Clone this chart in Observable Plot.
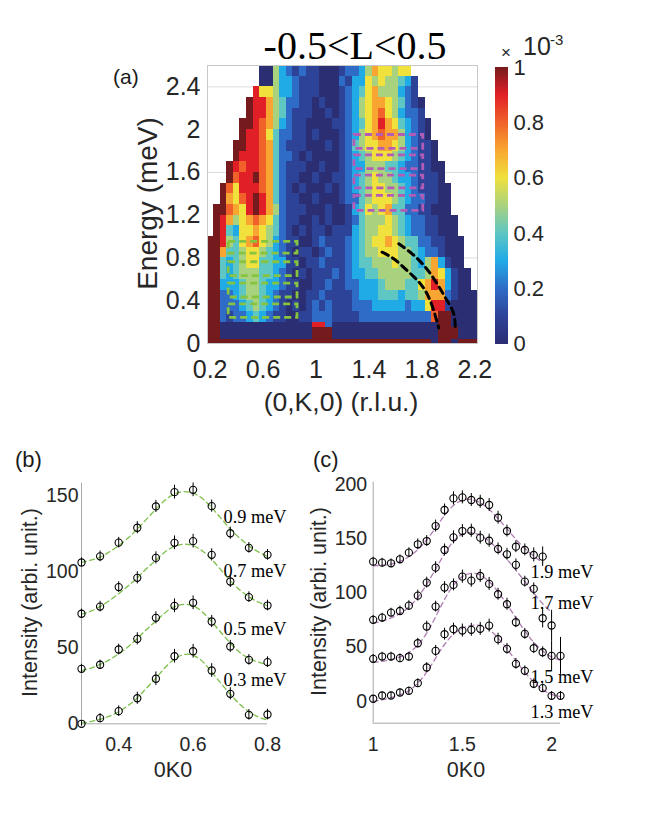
<!DOCTYPE html>
<html>
<head>
<meta charset="utf-8">
<script src="https://cdn.jsdelivr.net/npm/d3@7"></script>
<script src="https://cdn.jsdelivr.net/npm/@observablehq/plot@0.6"></script>
<style>
html,body{margin:0;padding:0;background:#fff;}
#fig{position:relative;width:668px;height:839px;overflow:hidden;background:#fff;}
#fig > svg{position:absolute;overflow:visible;background:transparent;}
</style>
</head>
<body>
<div id="fig"></div>
<script>
const SANS = '"Liberation Sans", Arial, Helvetica, sans-serif';
const SERIF = '"Liberation Serif", "Times New Roman", Times, serif';
const INK = "#262626";

// ================= Panel (a) data =================
const kCenters = [0.2,0.25,0.3,0.35,0.4,0.45,0.5,0.55,0.6,0.65,0.7,0.75,0.8,0.85,0.9,0.95,1,1.05,1.1,1.15,1.2,1.25,1.3,1.35,1.4,1.45,1.5,1.55,1.6,1.65,1.7,1.75,1.8,1.85,1.9,1.95,2,2.05,2.1,2.15,2.2];
const kBinWidth = 0.05;
const energyBands = [[2.5,2.6],[2.4,2.5],[2.3,2.4],[2.2,2.3],[2.1,2.2],[2.0,2.1],[1.9,2.0],[1.8,1.9],[1.7,1.8],[1.6,1.7],[1.5,1.6],[1.4,1.5],[1.3,1.4],[1.2,1.3],[1.1,1.2],[1.0,1.1],[0.9,1.0],[0.8,0.9],[0.7,0.8],[0.6,0.7],[0.5,0.6],[0.4,0.5],[0.3,0.4],[0.2,0.3],[0.15,0.2],[0.04,0.15],[0,0.04]];
// intensity levels (x1e-3): '0'..'9' = 0.0..0.9, 'a' = 1.0, '.' = no data
const mapRows = [
  '........00'+'5321211000'+'1223576656'+'6..........',
  '........00'+'5332111000'+'2133656554'+'31.........',
  '.......966'+'5332111000'+'1234675553'+'21.........',
  '......a997'+'5422110100'+'1235677654'+'210........',
  '......a997'+'5421110010'+'1235678653'+'221........',
  '.....aa987'+'5321100001'+'1234679764'+'3210.......',
  '.....a9986'+'4221101000'+'1235678775'+'3210.......',
  '....aa9987'+'4211100010'+'1245667765'+'32110......',
  '....a99987'+'4221010000'+'1234566654'+'32110......',
  '...a989987'+'4211100100'+'1233555443'+'221100.....',
  '...a899a87'+'4211001001'+'1234565543'+'321110.....',
  '..a8699987'+'4210100010'+'1234566554'+'3211100....',
  '..a7689a97'+'4211001000'+'1224566654'+'3221100....',
  '.aa8769a97'+'5211100010'+'0134656744'+'2211000....',
  '.a97567876'+'4211001010'+'0124555654'+'32211000...',
  '.a94366765'+'4210101101'+'1134556654'+'32211000...',
  'aa95467865'+'3211001211'+'1234566765'+'442211000..',
  'aa74456654'+'3210110121'+'1234556665'+'543221000..',
  'aa43456644'+'3311011211'+'1234455565'+'543573100..',
  'aa43455544'+'3210101112'+'1233445555'+'5445763100.',
  'aa33345543'+'3211001121'+'1223334555'+'4467973100.',
  'aa22345543'+'2110011211'+'1123334443'+'44577721000',
  'aa22234543'+'2101012121'+'1122233333'+'23369910000',
  'aa21223432'+'1100112221'+'1112222222'+'22228aa0000',
  'aa00000000'+'0000009920'+'0000000000'+'00000aa0000',
  'aa00000000'+'000000aaa0'+'0000000000'+'00000aaa000',
  'aaaaaaaaaa'+'aaaaaaaaaa'+'aaaaaaaaaa'+'aaaa0aa0aaa'
];
const cmapStops  = [0, 0.1, 0.2, 0.3, 0.4, 0.5, 0.6, 0.7, 0.8, 0.9, 1];
const cmapColors = ["#2c2e74","#2d4398","#2f6cc7","#20abe6","#5ec6c3","#a9d27e","#f0e13c","#f8a631","#f0622a","#e11f26","#751b1d"];
const kTicks = [0.2, 0.6, 1, 1.4, 1.8, 2.2];
const eTicks = [0, 0.4, 0.8, 1.2, 1.6, 2, 2.4];
const eGrid = [0.8, 1.6, 2.4];
const cbarTicks = [0, 0.2, 0.4, 0.6, 0.8, 1];
const greenBoxK = [0.34, 0.86];
const greenBoxE = [[0.24,0.365],[0.43,0.56],[0.63,0.76],[0.84,0.95]];
const magentaBoxK = [1.29, 1.81];
const magentaBoxE = [[1.24,1.38],[1.45,1.57],[1.63,1.76],[1.82,1.95]];
const innerCurveK = [1.499,1.587,1.688,1.789,1.851,1.889,1.927];
const innerCurveE = [0.854,0.792,0.683,0.558,0.433,0.309,0.145];
const outerCurveK = [1.625,1.726,1.826,1.915,1.990,2.040,2.053];
const outerCurveE = [0.933,0.839,0.714,0.558,0.402,0.278,0.13];

// ================= Panel (b) data =================
const xB = [0.3,0.35,0.4,0.45,0.5,0.55,0.6,0.65,0.7,0.75,0.8];
const b09 = [106,110,119,128.8,142.8,152.2,153.7,143,125.2,115.6,111];
const b07 = [72.3,77,89.8,95.9,109,118.9,120,111,93.5,83.2,77.7];
const b05 = [36.1,38.8,48.8,55.8,69.6,77.5,79.5,67.2,50.8,42,40.5];
const b03 = [0,3.7,8.3,16.8,29.6,44.4,47.7,35,19.7,5.9,6.1];
const eB09 = [3,3.5,3.5,4,4,4.5,4.5,4,4,3.5,3.5];
const eB07 = [3,3.5,3.5,4,4,4.5,4.5,4,4,3.5,3.5];
const eB05 = [3,3,3.5,4,4,4.5,4.5,4,4,3.5,3.5];
const eB03 = [1.5,3,3.5,4,4.5,4.5,4.5,4.5,4,3.5,3.5];
const fitXB = [0.3,0.325,0.35,0.375,0.4,0.425,0.45,0.475,0.5,0.525,0.55,0.575,0.6,0.625,0.65,0.675,0.7,0.725,0.75,0.775,0.8];
const fitB09 = [106,107.5,109.5,113,117,122,128,134.5,141,147,151,152.5,151.5,148,142,135,128,122,117,113,110];
const fitB07 = [72,74,77,81,85.5,90.5,96,102,107.5,113,116.5,118,117,113.5,108,101,94,88,83.5,80,77.5];
const fitB05 = [35,36.5,39,42,46,50.5,56,62,67.5,73,77,78.5,77.5,73.5,67,60,53,47,43,40.5,39];
const fitB03 = [0.5,1.5,3,5,8,12,17,23.5,30,37,42.5,45.5,45,41,34,26.5,19.5,13,8,4.5,2.5];
const labelsB = [["0.9 meV",0.682,135.5],["0.7 meV",0.682,100.1],["0.5 meV",0.682,62],["0.3 meV",0.682,28.5]];

// ================= Panel (c) data =================
const xC = [1,1.05,1.1,1.15,1.2,1.25,1.3,1.35,1.4,1.45,1.5,1.55,1.6,1.65,1.7,1.75,1.8,1.85,1.9,1.95,2,2.05];
const c19 = [128.8,127.9,127.3,131,137.1,144.8,147.8,161.6,176.4,187.1,188,185.6,184,181,169.3,157,142.6,139.6,135,133.4];
const c17 = [75.2,77.3,81.9,83.4,88.3,97.5,109.5,123.3,139.6,151.2,157,157.3,150.9,148.1,140.5,135.6,125.8,110.4,103.7,76.7,70];
const c15 = [39.3,41.4,41.4,39.9,41.4,53.7,69,87.4,104.9,107.4,115,111.3,115.6,108.3,98.8,89.6,73,62.3,49.1,45.4,42,42];
const c13 = [2.5,5.5,5.5,8.3,9.8,16.9,31.3,46.6,62,66.6,65.3,66,66.9,69.9,57.4,48.5,34.7,28.2,16.3,12.3,5.2,5.2];
const eC19 = [4,4,4,4,4.5,5,5,5.5,5.5,6,6,6,6,6,6,5.5,5.5,5.5,6.5,9];
const eC17 = [4,4,4,4.5,4.5,5,5,5.5,5.5,6,6,6,6,6,5.5,5.5,5.5,5,5.5,9,14];
const eC15 = [4,4,4,4,4,4.5,5,5,5.5,5.5,6,6,6,6,5.5,5.5,5,5,5,5,14,17];
const eC13 = [3,3,3,3,3.5,4,4.5,5,5.5,5.5,6,6,6,6,5.5,5,5,4.5,4.5,4,4,4];
const fitC19 = [125,125.5,126.5,129,133.5,140,149,160,171.5,180.5,185.5,186,183,177,168.5,159,149.5,141,134,128];
const fitC17 = [72,74,77,81,87,96,108,122,136,147.5,154,155.5,153,147.5,140,131,121,110.5,100,90,82];
const fitC15 = [36,37,38.5,41,45,52,63,78,94,107,115,118,116.5,110.5,101,89.5,77,65,54.5,46.5,41,38];
const fitC13 = [0,1.5,3.5,6,10,17,27,40,52.5,62,67.5,70,70,66,58.5,48.5,37.5,27,18,11,6.5,4.5];
const labelsC = [["1.9 meV",1.882,119.6],["1.7 meV",1.882,90.5],["1.5 meV",1.882,22.4],["1.3 meV",1.882,-10.1]];

// ================= build =================
const cmap = d3.scaleLinear().domain(cmapStops).range(cmapColors).clamp(true);
const levelOf = ch => (ch === undefined || ch === ".") ? null : (ch === "a" ? 1 : (+ch) / 10);
const cells = [];
mapRows.forEach((row, r) => {
  const [e0, e1] = energyBands[r];
  kCenters.forEach((k, i) => {
    const v = levelOf(row[i]);
    if (v === null) return;
    cells.push({x1: k - kBinWidth / 2, x2: k + kBinWidth / 2, y1: e0, y2: e1, v});
  });
});
const greenBoxes = greenBoxE.map(([e0, e1]) => ({k0: greenBoxK[0], k1: greenBoxK[1], e0, e1}));
const magentaBoxes = magentaBoxE.map(([e0, e1]) => ({k0: magentaBoxK[0], k1: magentaBoxK[1], e0, e1}));
const innerCurve = innerCurveK.map((k, i) => ({k, e: innerCurveE[i]}));
const outerCurve = outerCurveK.map((k, i) => ({k, e: outerCurveE[i]}));

const fig = document.getElementById("fig");
function place(el, left, top) { el.style.left = left + "px"; el.style.top = top + "px"; fig.appendChild(el); }

const plotA = Plot.plot({
  width: 490, height: 420,
  marginLeft: 207, marginRight: 13, marginTop: 65, marginBottom: 77,
  x: {domain: [0.18, 2.22]},
  y: {domain: [0, 2.6]},
  color: {type: "identity"},
  style: {fontFamily: SANS, fontSize: "25px", color: INK, background: "transparent", overflow: "visible"},
  marks: [
    Plot.ruleY(eGrid, {stroke: "#dcdcdc", strokeWidth: 1}),
    Plot.rect(cells, {x1: "x1", x2: "x2", y1: "y1", y2: "y2", fill: d => cmap(d.v), clip: true, shapeRendering: "crispEdges"}),
    Plot.rect(greenBoxes, {x1: "k0", x2: "k1", y1: "e0", y2: "e1", fill: "none", stroke: "#86c440", strokeWidth: 2.8, strokeDasharray: "7,4"}),
    Plot.rect(magentaBoxes, {x1: "k0", x2: "k1", y1: "e0", y2: "e1", fill: "none", stroke: "#b35cb7", strokeWidth: 2.8, strokeDasharray: "7,4"}),
    Plot.line(innerCurve, {x: "k", y: "e", stroke: "black", strokeWidth: 3, strokeDasharray: "7,5", curve: "natural"}),
    Plot.line(outerCurve, {x: "k", y: "e", stroke: "black", strokeWidth: 3, strokeDasharray: "7,5", curve: "natural"}),
    Plot.frame({stroke: "#c8c8c8"}),
    Plot.axisX({ticks: kTicks, tickFormat: d => String(d), tickSize: 0, tickPadding: 17, label: null}),
    Plot.axisY({ticks: eTicks, tickFormat: d => String(d), tickSize: 0, tickPadding: 7, label: null})
  ]
});
place(plotA, 0, 0);

const cbarSteps = d3.range(0, 1, 0.004);
const plotCB = Plot.plot({
  width: 73, height: 296.6,
  marginLeft: 0, marginRight: 60, marginTop: 10, marginBottom: 10,
  x: {domain: [0, 1], axis: null},
  y: {domain: [0, 1]},
  color: {type: "identity"},
  style: {fontFamily: SANS, fontSize: "22px", color: INK, background: "transparent", overflow: "visible"},
  marks: [
    Plot.rect(cbarSteps, {x1: () => 0, x2: () => 1, y1: d => d, y2: d => d + 0.0045, fill: d => cmap(d + 0.002), shapeRendering: "crispEdges"}),
    Plot.axisY({anchor: "right", ticks: cbarTicks, tickFormat: d => String(d), tickSize: 0, tickPadding: 5, label: null})
  ]
});
place(plotCB, 495, 56.7);

function seriesPoints(xs, ys, es, name) { return ys.map((y, i) => ({x: xs[i], y, e: es[i], s: name})); }
function seriesLine(xs, ys, name) { return ys.map((y, i) => ({x: xs[i], y, s: name})); }

const pointsB = [...seriesPoints(xB, b09, eB09, "0.9"), ...seriesPoints(xB, b07, eB07, "0.7"), ...seriesPoints(xB, b05, eB05, "0.5"), ...seriesPoints(xB, b03, eB03, "0.3")];
const fitsB = [...seriesLine(fitXB, fitB09, "0.9"), ...seriesLine(fitXB, fitB07, "0.7"), ...seriesLine(fitXB, fitB05, "0.5"), ...seriesLine(fitXB, fitB03, "0.3")];
const labB = labelsB.map(([t, x, y]) => ({t, x, y}));

const plotB = Plot.plot({
  width: 320, height: 360,
  marginLeft: 81, marginRight: 53, marginTop: 42.8, marginBottom: 76.7,
  x: {domain: [0.3, 0.8]},
  y: {domain: [0, 158]},
  style: {fontFamily: SANS, fontSize: "19.5px", color: INK, background: "transparent", overflow: "visible"},
  marks: [
    Plot.ruleX([0.3], {stroke: "#a8a8a8"}),
    Plot.ruleY([0], {stroke: "#a8a8a8"}),
    Plot.line(fitsB, {x: "x", y: "y", z: "s", stroke: "#7cbf4a", strokeWidth: 1.3, strokeDasharray: "5,3.5", curve: "natural"}),
    Plot.ruleX(pointsB, {x: "x", y1: d => d.y - d.e, y2: d => d.y + d.e, stroke: "black", strokeWidth: 1}),
    Plot.dot(pointsB, {x: "x", y: "y", r: 3.6, stroke: "black", strokeWidth: 1.1, fill: "none"}),
    Plot.text(labB, {x: "x", y: "y", text: "t", textAnchor: "start", fontFamily: SERIF, fontSize: 18.3, fill: "black"}),
    Plot.axisX({ticks: [0.4, 0.6, 0.8], tickFormat: d => String(d), tickSize: 0, tickPadding: 13, label: null}),
    Plot.axisY({ticks: [0, 50, 100, 150], tickFormat: d => String(d), tickSize: 0, tickPadding: 3, label: null})
  ]
});
place(plotB, 0, 440);

const pointsC = [...seriesPoints(xC, c19, eC19, "1.9"), ...seriesPoints(xC, c17, eC17, "1.7"), ...seriesPoints(xC, c15, eC15, "1.5"), ...seriesPoints(xC, c13, eC13, "1.3")];
const fitsC = [...seriesLine(xC, fitC19, "1.9"), ...seriesLine(xC, fitC17, "1.7"), ...seriesLine(xC, fitC15, "1.5"), ...seriesLine(xC, fitC13, "1.3")];
const labC = labelsC.map(([t, x, y]) => ({t, x, y}));

const plotC = Plot.plot({
  width: 348, height: 360,
  marginLeft: 52.7, marginRight: 108, marginTop: 41.7, marginBottom: 77.3,
  x: {domain: [1, 2.05]},
  y: {domain: [-20, 202]},
  style: {fontFamily: SANS, fontSize: "19.5px", color: INK, background: "transparent", overflow: "visible"},
  marks: [
    Plot.ruleX([1], {stroke: "#a8a8a8"}),
    Plot.ruleY([-20], {stroke: "#a8a8a8"}),
    Plot.line(fitsC, {x: "x", y: "y", z: "s", stroke: "#b07cb4", strokeWidth: 1.3, strokeDasharray: "5,3.5", curve: "natural"}),
    Plot.ruleX(pointsC, {x: "x", y1: d => d.y - d.e, y2: d => d.y + d.e, stroke: "black", strokeWidth: 1}),
    Plot.dot(pointsC, {x: "x", y: "y", r: 3.6, stroke: "black", strokeWidth: 1.1, fill: "none"}),
    Plot.text(labC, {x: "x", y: "y", text: "t", textAnchor: "start", fontFamily: SERIF, fontSize: 18.3, fill: "black"}),
    Plot.axisX({ticks: [1, 1.5, 2], tickFormat: d => String(d), tickSize: 0, tickPadding: 13.5, label: null}),
    Plot.axisY({ticks: [0, 50, 100, 150, 200], tickFormat: d => String(d), tickSize: 0, tickPadding: 6, label: null})
  ]
});
place(plotC, 320, 440);

// ================= free text =================
const ov = d3.create("svg").attr("width", 668).attr("height", 839);
function txt(x, y, s, o = {}) {
  const t = ov.append("text").attr("x", x).attr("y", y).text(s)
    .attr("font-family", o.family || SANS).attr("font-size", o.size || 20)
    .attr("fill", o.fill || INK).attr("text-anchor", o.anchor || "start");
  if (o.rotate) t.attr("transform", `rotate(${o.rotate},${x},${y})`);
  return t;
}
txt(355, 59, "-0.5<L<0.5", {family: SERIF, size: 40, fill: "black", anchor: "middle"});
txt(113, 83.6, "(a)", {size: 21, fill: "#1a1a1a"});
txt(157, 203.5, "Energy (meV)", {size: 28, anchor: "middle", rotate: -90});
txt(341, 411, "(0,K,0) (r.l.u.)", {size: 26.5, anchor: "middle"});
txt(501, 58, "\u00d7", {size: 17});
txt(523, 55, "10", {size: 25});
txt(550, 45, "-3", {size: 15});
txt(15, 467, "(b)", {size: 22, fill: "#1a1a1a"});
txt(313, 467, "(c)", {size: 22, fill: "#1a1a1a"});
txt(37.2, 602.5, "Intensity (arbi. unit.)", {size: 21.5, anchor: "middle", rotate: -90});
txt(325.5, 601.5, "Intensity (arbi. unit.)", {size: 21.5, anchor: "middle", rotate: -90});
txt(173, 776.7, "0K0", {size: 21.5, anchor: "middle"});
txt(466, 776.7, "0K0", {size: 21.5, anchor: "middle"});
const ovNode = ov.node();
place(ovNode, 0, 0);
</script>
</body>
</html>
